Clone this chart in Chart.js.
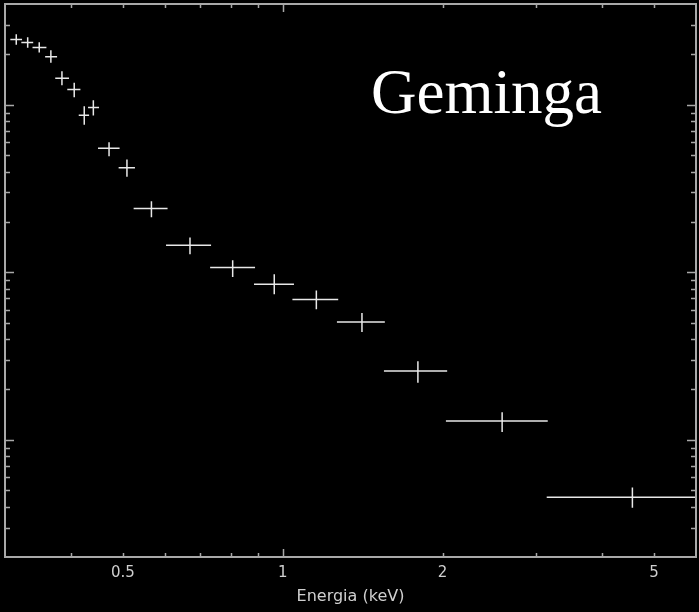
<!DOCTYPE html>
<html>
<head>
<meta charset="utf-8">
<script src="https://cdn.jsdelivr.net/npm/chart.js@4"></script>
<style>
  body { margin: 0; background: #000; }
</style>
</head>
<body>
<canvas id="spectrum" width="699" height="612"></canvas>
<script>
// spectrum bins (keV) and flux
var energy  = [0.315, 0.331, 0.348, 0.366, 0.384, 0.405, 0.423, 0.440, 0.471, 0.509, 0.566, 0.669, 0.805, 0.964, 1.157, 1.410, 1.797, 2.589, 4.554];
var eLo     = [0.307, 0.322, 0.338, 0.357, 0.373, 0.393, 0.413, 0.430, 0.449, 0.491, 0.524, 0.603, 0.730, 0.883, 1.043, 1.265, 1.551, 2.029, 3.141];
var eHi     = [0.323, 0.339, 0.359, 0.376, 0.396, 0.416, 0.432, 0.451, 0.493, 0.527, 0.607, 0.733, 0.887, 1.050, 1.272, 1.557, 2.040, 3.155, 6.0];
var flux    = [2.457, 2.358, 2.201, 1.934, 1.443, 1.236, 0.868, 0.965, 0.551, 0.421, 0.241, 0.1454, 0.1070, 0.0850, 0.0689, 0.0506, 0.0258, 0.01298, 0.00455];
var fluxHi  = [2.643, 2.535, 2.367, 2.121, 1.589, 1.353, 0.982, 1.067, 0.599, 0.472, 0.266, 0.1616, 0.1183, 0.0976, 0.0780, 0.0573, 0.0295, 0.01463, 0.00520];
var fluxLo  = [2.282, 2.189, 2.055, 1.781, 1.311, 1.112, 0.760, 0.864, 0.494, 0.372, 0.213, 0.1285, 0.0940, 0.0741, 0.0603, 0.0441, 0.0219, 0.01116, 0.00393];

var xTicks      = [0.4, 0.5, 0.6, 0.7, 0.8, 0.9, 1, 2, 3, 4, 5];
var xTickLabels = ['', '0.5', '', '', '', '', '1', '2', '', '', '5'];
var xMajor      = [1];
var yTicks = [0.003, 0.004, 0.005, 0.006, 0.007, 0.008, 0.009,
              0.01, 0.02, 0.03, 0.04, 0.05, 0.06, 0.07, 0.08, 0.09,
              0.1, 0.2, 0.3, 0.4, 0.5, 0.6, 0.7, 0.8, 0.9,
              1, 2, 3];
var yMajor = [0.01, 0.1, 1];

var frameColor = '#a8a8a8';

var framePlugin = {
    id: 'frame',
    afterDraw: function(chart) {
        var ctx = chart.ctx, a = chart.chartArea;
        var xs = chart.scales.x, ys = chart.scales.y;
        ctx.save();
        // error bars
        ctx.beginPath();
        ctx.rect(a.left, a.top, a.right - a.left, a.bottom - a.top);
        ctx.clip();
        ctx.strokeStyle = '#e8e8e8';
        ctx.lineWidth = 1.5;
        for (var i = 0; i < energy.length; i++) {
            var px = xs.getPixelForValue(energy[i]);
            var py = ys.getPixelForValue(flux[i]);
            ctx.beginPath();
            ctx.moveTo(xs.getPixelForValue(eLo[i]), py);
            ctx.lineTo(xs.getPixelForValue(eHi[i]), py);
            ctx.moveTo(px, ys.getPixelForValue(fluxHi[i]));
            ctx.lineTo(px, ys.getPixelForValue(fluxLo[i]));
            ctx.stroke();
        }
        ctx.restore();

        ctx.save();
        ctx.strokeStyle = frameColor;
        ctx.lineWidth = 2;
        ctx.strokeRect(a.left, a.top, a.right - a.left, a.bottom - a.top);
        ctx.lineWidth = 1.5;
        ctx.beginPath();
        xTicks.forEach(function(v) {
            var p = Math.round(xs.getPixelForValue(v)) + 0.5;
            var len = xMajor.indexOf(v) >= 0 ? 8 : 4;
            ctx.moveTo(p, a.bottom); ctx.lineTo(p, a.bottom - len);
            ctx.moveTo(p, a.top); ctx.lineTo(p, a.top + len);
        });
        yTicks.forEach(function(v) {
            var p = Math.round(ys.getPixelForValue(v)) + 0.5;
            var len = yMajor.indexOf(v) >= 0 ? 9 : 5;
            ctx.moveTo(a.left, p); ctx.lineTo(a.left + len, p);
            ctx.moveTo(a.right, p); ctx.lineTo(a.right - len, p);
        });
        ctx.stroke();

        ctx.fillStyle = '#ffffff';
        ctx.font = '63px "Liberation Serif"';
        ctx.textBaseline = 'alphabetic';
        ctx.fillText('Geminga', 371, 113);
        ctx.restore();
    }
};

var points = energy.map(function(e, i) { return {x: e, y: flux[i]}; });

var chart = new Chart(document.getElementById('spectrum'), {
    type: 'scatter',
    data: {
        datasets: [{
            label: 'Geminga',
            data: points,
            pointRadius: 0,
            pointHoverRadius: 0,
            showLine: false
        }]
    },
    options: {
        responsive: false,
        animation: false,
        events: [],
        layout: { padding: { left: 5, right: 3, top: 4, bottom: 0 } },
        plugins: { legend: { display: false }, tooltip: { enabled: false } },
        scales: {
            x: {
                type: 'logarithmic',
                min: 0.3,
                max: 6,
                afterBuildTicks: function(s) { s.ticks = xTicks.map(function(v) { return {value: v}; }); },
                afterFit: function(s) { s.height = 55; },
                grid: { display: false, drawTicks: false },
                border: { display: false },
                ticks: {
                    color: '#cfcfcf',
                    font: { family: 'DejaVu Sans', size: 15 },
                    padding: 7,
                    autoSkip: false,
                    maxRotation: 0,
                    callback: function(v, i) { return xTickLabels[i]; }
                },
                title: {
                    display: true,
                    text: 'Energia (keV)',
                    color: '#cfcfcf',
                    font: { family: 'DejaVu Sans', size: 16 },
                    padding: { top: 0, bottom: 6 }
                }
            },
            y: {
                type: 'logarithmic',
                min: 0.002,
                max: 4,
                display: false
            }
        }
    },
    plugins: [framePlugin]
});
</script>
</body>
</html>
